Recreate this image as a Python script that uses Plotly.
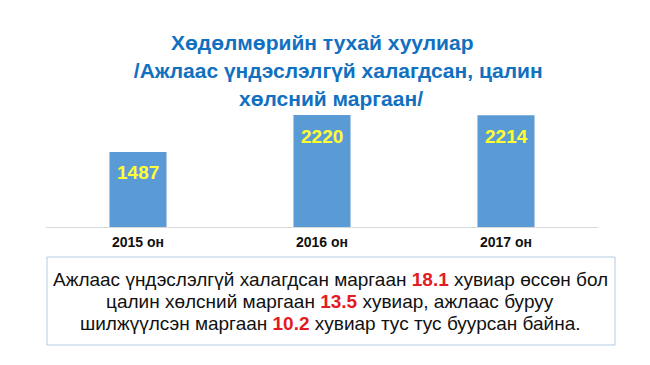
import plotly.graph_objects as go

categories = ["2015 он", "2016 он", "2017 он"]
values = [1487, 2220, 2214]
title_lines = [
    "Хөдөлмөрийн тухай хуулиар",
    " /Ажлаас үндэслэлгүй халагдсан, цалин",
    "хөлсний маргаан/",
]
note_lines = [
    ("Ажлаас үндэслэлгүй халагдсан маргаан ", "18.1", " хувиар өссөн бол"),
    ("цалин хөлсний маргаан ", "13.5", " хувиар, ажлаас буруу"),
    ("шилжүүлсэн маргаан ", "10.2", " хувиар тус тус буурсан байна."),
]

BLUE_TITLE = "#1170c0"
BAR = "#5b9bd5"
FONT = "Liberation Sans, Arial, sans-serif"

# plot area in page pixels (the page adds an 8px body margin)
PL, PR, PT, PB = 46, 598, 105, 227
PW, PH = PR - PL, PB - PT


def px(x):
    return (x - PL) / PW


def py(y):
    return (PB - y) / PH


fig = go.Figure()
fig.add_trace(go.Bar(
    x=categories, y=values, marker=dict(color=BAR, line=dict(width=0)),
    hoverinfo="skip", showlegend=False,
))

for c, v in zip(categories, values):
    fig.add_annotation(x=c, y=v, xref="x", yref="y", text=f"<b>{v}</b>",
                       showarrow=False, yanchor="middle", yshift=-21,
                       font=dict(family=FONT, size=19, color="#ffff33"))

title_y = [42, 71, 98]
title_x = [322, 335, 331]
for t, yy, xx in zip(title_lines, title_y, title_x):
    fig.add_annotation(x=px(xx), y=py(yy), xref="paper", yref="paper",
                       text=f"<b>{t}</b>", showarrow=False,
                       xanchor="center", yanchor="middle",
                       font=dict(family=FONT, size=21, color=BLUE_TITLE))

# note box
fig.add_shape(type="rect", xref="paper", yref="paper",
              x0=px(47), x1=px(615), y0=py(345), y1=py(257),
              line=dict(color="#b7cbe0", width=1), fillcolor="rgba(0,0,0,0)")
note_y = [279, 301, 323]
for (a, n, b), yy in zip(note_lines, note_y):
    txt = f"{a}<b><span style='color:#e31b23'>{n}</span></b>{b}"
    fig.add_annotation(x=px(330), y=py(yy), xref="paper", yref="paper",
                       text=txt, showarrow=False, xanchor="center", yanchor="middle",
                       font=dict(family=FONT, size=19, color="#111111"))

ymax = 2220 * PH / 112
fig.update_layout(
    width=650, height=365,
    margin=dict(l=PL - 8, r=650 - (PR - 8), t=PT - 8, b=365 - (PB - 8)),
    paper_bgcolor="white", plot_bgcolor="white",
    bargap=0.69,
    font=dict(family=FONT),
    xaxis=dict(showline=True, linecolor="#d9d9d9", linewidth=1, ticks="",
               tickfont=dict(family=FONT, size=14, color="#111111"),
               tickprefix="<b>", ticksuffix="</b>", showgrid=False,
               ticklabelstandoff=2, fixedrange=True),
    yaxis=dict(visible=False, range=[0, ymax], showgrid=False, fixedrange=True),
)

fig.write_html("out.html", config={"displayModeBar": False})
